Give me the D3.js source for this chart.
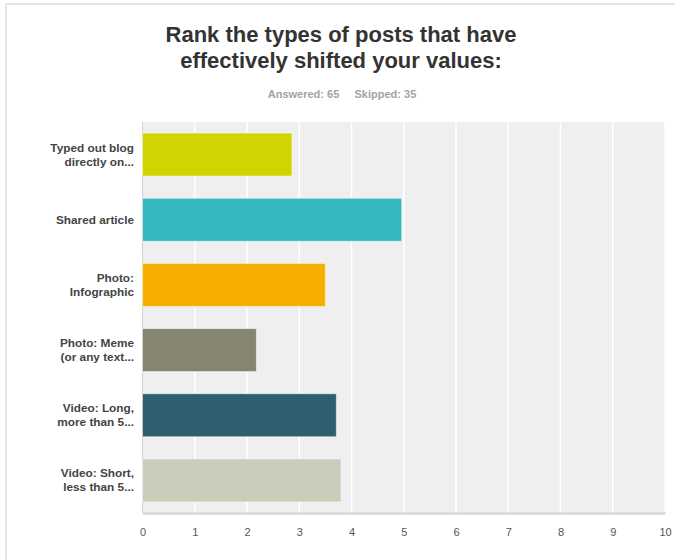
<!DOCTYPE html>
<html><head><meta charset="utf-8">
<script src="https://cdn.jsdelivr.net/npm/d3@7"></script>
<style>
html,body{margin:0;padding:0;background:#fff;}
svg{display:block;font-family:"Liberation Sans",Arial,Helvetica,sans-serif;}
</style></head>
<body>
<svg id="chart" width="675" height="560"></svg>
<script>
const categories = [
  ["Typed out blog", "directly on..."],
  ["Shared article"],
  ["Photo:", "Infographic"],
  ["Photo: Meme", "(or any text..."],
  ["Video: Long,", "more than 5..."],
  ["Video: Short,", "less than 5..."]
];
const values = [2.86, 4.96, 3.50, 2.18, 3.71, 3.80];
const colors = ["#d0d400", "#35b8bf", "#f6ae00", "#868670", "#2e5f6f", "#cbcdbb"];
const tickValues = [0,1,2,3,4,5,6,7,8,9,10];
const titleLines = ["Rank the types of posts that have", "effectively shifted your values:"];
const subtitle = "Answered: 65     Skipped: 35";

(function(){
const svg = d3.select("#chart");
const W = 675, H = 560;
const pL = 142.5, pR = 665, pT = 122, pB = 513;

// frame
svg.append("line").attr("x1",6).attr("x2",W).attr("y1",4).attr("y2",4).attr("stroke","#e6e6e6").attr("stroke-width",2);
svg.append("line").attr("x1",6).attr("x2",6).attr("y1",4).attr("y2",H).attr("stroke","#e6e6e6").attr("stroke-width",2);

// title
svg.append("text").attr("x",341).attr("y",42).attr("text-anchor","middle")
  .attr("font-size",22).attr("font-weight","bold").attr("fill","#333")
  .selectAll("tspan").data(titleLines).join("tspan")
  .attr("x",341).attr("dy",(d,i)=> i===0?0:25.5).text(d=>d);
svg.append("text").attr("x",342).attr("y",98).attr("text-anchor","middle")
  .attr("font-size",11).attr("font-weight","bold").attr("fill","#a3a3a3")
  .attr("xml:space","preserve").style("white-space","pre").text(subtitle);

const x = d3.scaleLinear().domain([0,10]).range([pL, pR]);
const y = d3.scaleBand().domain(d3.range(categories.length)).range([pT, pB])
  .paddingInner(0.34).paddingOuter(0.17);

// plot bg
svg.append("rect").attr("x",pL).attr("y",pT).attr("width",pR-pL).attr("height",pB-pT).attr("fill","#efefef");

// grid
svg.append("g").selectAll("line").data(tickValues.slice(1)).join("line")
  .attr("x1",d=>x(d)).attr("x2",d=>x(d)).attr("y1",pT).attr("y2",pB)
  .attr("stroke","#fff").attr("stroke-width",1.5);

// left axis line
svg.append("line").attr("x1",pL).attr("x2",pL).attr("y1",pT).attr("y2",pB).attr("stroke","#d0d0d0").attr("stroke-width",1);

// bars
svg.append("g").selectAll("rect").data(values).join("rect")
  .attr("x",x(0)).attr("y",(d,i)=>y(i)).attr("width",d=>x(d)-x(0)).attr("height",y.bandwidth())
  .attr("fill",(d,i)=>colors[i]).attr("stroke","rgba(255,255,255,0.5)").attr("stroke-width",1);

// bottom axis
const xAxis = d3.axisBottom(x).tickValues(tickValues).tickSize(0).tickPadding(15).tickFormat(d3.format("d"));
const gx = svg.append("g").attr("transform",`translate(0,${pB})`).call(xAxis);
gx.select(".domain").attr("stroke","#d8d8d8").attr("stroke-width",2.5);
gx.selectAll("text").attr("font-size",11).attr("fill","#555").attr("font-family","Liberation Sans, Arial, sans-serif");

// category labels
const lab = svg.append("g").selectAll("text").data(categories).join("text")
  .attr("text-anchor","end").attr("font-size",11.8).attr("font-weight","bold").attr("fill","#444");
lab.each(function(lines,i){
  const cy = y(i) + y.bandwidth()/2;
  const lh = 14;
  const start = cy - (lines.length-1)*lh/2 + 4;
  d3.select(this).selectAll("tspan").data(lines).join("tspan")
    .attr("x",134).attr("y",(d,j)=>start + j*lh).text(d=>d);
});
})();
</script>
</body></html>
